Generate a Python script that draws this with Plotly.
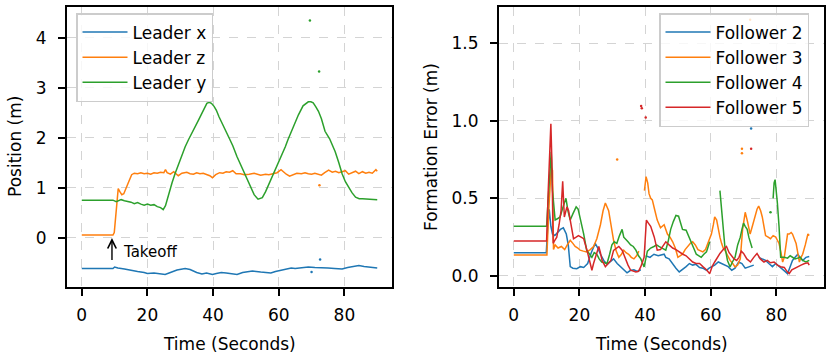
import plotly.graph_objects as go

# ---------------- data ----------------
# Left panel: leader position (t [s], value [m]); None = gap
leader_x = [(0, -0.62), (9.5, -0.62), (10, -0.59), (11, -0.61), (13, -0.63), (15, -0.66), (17, -0.68),
            (19, -0.7), (20, -0.72), (22, -0.71), (24, -0.73), (25.4, -0.74), (27, -0.7), (29, -0.65),
            (31.5, -0.62), (33, -0.64), (35, -0.7), (36.6, -0.73), (38, -0.71), (39.8, -0.74), (41, -0.72),
            (42.5, -0.7), (44, -0.71), (45.5, -0.73), (47.3, -0.74), (49, -0.7), (50.4, -0.68), (52, -0.67),
            (54.5, -0.69), (56, -0.7), (57.6, -0.71), (59, -0.68), (60.7, -0.66), (62, -0.64), (63.8, -0.61),
            (65, -0.62), (67, -0.6), (69, -0.59), (71, -0.6), (73, -0.6), (75, -0.61), (77, -0.62),
            (79.3, -0.63), (81, -0.6), (82.5, -0.58), (84.4, -0.56), (86, -0.58), (88, -0.59), (90, -0.61)]

leader_z = [(0, 0.05), (9.5, 0.05), (9.9, 0.1), (10.3, 0.4), (10.7, 0.75), (11.1, 0.98), (11.6, 0.92),
            (12.2, 0.86), (12.8, 0.88), (13.5, 0.98), (14.3, 1.12), (15.2, 1.26), (16, 1.29), (17, 1.28),
            (18, 1.3), (19, 1.28), (20, 1.29), (21, 1.27), (22, 1.3), (23, 1.29), (24, 1.31), (25, 1.3),
            (25.5, 1.36), (26, 1.3), (27, 1.27), (28, 1.32), (29.4, 1.24), (30.5, 1.29), (32, 1.31),
            (33, 1.28), (34, 1.27), (35, 1.3), (36, 1.28), (37, 1.29), (38, 1.27), (39, 1.24), (39.8, 1.2),
            (40.8, 1.26), (42, 1.3), (43, 1.29), (44, 1.32), (45, 1.31), (46, 1.34), (47, 1.28),
            (48.3, 1.28), (49.5, 1.26), (51, 1.27), (52.5, 1.29), (54.5, 1.25), (56, 1.27), (57, 1.26),
            (58.5, 1.29), (59.5, 1.3), (60.7, 1.36), (61.5, 1.31), (62.3, 1.27), (63.3, 1.23), (64.5, 1.27),
            (65.5, 1.29), (66.9, 1.28), (68, 1.3), (69, 1.28), (70, 1.27), (71, 1.29), (72, 1.27),
            (73, 1.25), (74, 1.3), (75.2, 1.35), (76.3, 1.31), (77.3, 1.33), (78.3, 1.3), (79.3, 1.32),
            (80.3, 1.34), (81.3, 1.27), (82.3, 1.3), (83.4, 1.33), (84.4, 1.28), (85.5, 1.32), (86.5, 1.29),
            (87.5, 1.31), (88.5, 1.29), (89.6, 1.36), (90, 1.33)]

leader_y = [(0, 0.75), (9.5, 0.75), (10.5, 0.72), (11.2, 0.74), (12, 0.76), (13, 0.74), (14, 0.73),
            (15, 0.71), (16, 0.68), (17, 0.7), (18, 0.67), (19, 0.65), (20, 0.67), (21, 0.65), (22, 0.66),
            (23, 0.62), (24, 0.6), (24.8, 0.56), (25.5, 0.64), (26.5, 0.9), (27.5, 1.1), (28.4, 1.28),
            (29.5, 1.48), (30.5, 1.66), (31.5, 1.82), (32.5, 1.96), (33.5, 2.1), (34.5, 2.24), (35.6, 2.36),
            (36.5, 2.48), (37.3, 2.6), (38.1, 2.69), (38.8, 2.71), (39.5, 2.69), (40.3, 2.63), (41, 2.55),
            (41.8, 2.42), (42.6, 2.3), (43.4, 2.2), (44.2, 2.09), (45, 1.98), (46, 1.84), (47.3, 1.62),
            (48.5, 1.45), (49.5, 1.3), (50.4, 1.15), (51.5, 1.0), (52.5, 0.86), (53.7, 0.77), (55, 0.8),
            (56, 0.92), (57.1, 1.08), (58.5, 1.3), (59.7, 1.49), (61.2, 1.69), (62, 1.82), (62.8, 1.96),
            (64, 2.15), (64.8, 2.3), (66, 2.46), (67.4, 2.64), (68.2, 2.69), (69, 2.72), (69.8, 2.72),
            (70.5, 2.7), (71.3, 2.62), (72.1, 2.53), (73, 2.38), (74.1, 2.13), (75.5, 1.98), (77.2, 1.72),
            (78.3, 1.5), (79.3, 1.28), (80.3, 1.12), (81.3, 1.01), (82.3, 0.9), (83.4, 0.81), (84.5, 0.78),
            (85.5, 0.78), (87, 0.77), (88.5, 0.76), (90, 0.76)]

leader_x_dots = [(72.6, -0.44), (70.0, -0.69)]
leader_z_dots = [(72.4, 1.05)]
leader_y_dots = [(69.5, 4.35), (72.3, 3.33)]

# Right panel: formation error (t [s], value [m]); None = gap
follower2 = [(0, 0.15), (9.9, 0.15), (10.3, 0.3), (10.8, 0.43), (11.3, 0.32), (11.8, 0.27), (12.5, 0.26),
             (13.3, 0.28), (14.2, 0.3), (15.1, 0.31), (16, 0.27), (16.6, 0.2), (17.2, 0.06), (18, 0.05),
             (19.2, 0.047), (20.3, 0.06), (21.3, 0.055), (22.5, 0.08), (23.6, 0.15), (24.8, 0.21),
             (25.6, 0.18), (26.4, 0.14), (27.4, 0.1), (28.4, 0.075), (29.4, 0.09), (30.4, 0.11),
             (31.5, 0.08), (32.5, 0.06), (33.5, 0.04), (34.5, 0.02), (35.5, 0.035), (36.6, 0.04),
             (37.6, 0.03), (38.7, 0.04), None, (40.2, 0.13), (41.5, 0.12), (42.7, 0.14), (44, 0.13),
             (45.8, 0.14), (46.3, 0.12), (47.3, 0.11), (48.4, 0.075), (49.4, 0.05), (50.4, 0.026),
             (51.4, 0.04), (52.5, 0.06), (53.5, 0.08), (54.5, 0.07), (55.5, 0.075), (56.6, 0.054),
             (57.6, 0.05), (58.7, 0.037), (59.5, 0.05), (60.2, 0.058), (61.2, 0.07), (62.3, 0.09),
             (63.3, 0.08), (64.3, 0.07), (65.3, 0.06), (66.4, 0.037), (67.4, 0.05), (68.5, 0.09),
             (69.5, 0.08), (70.5, 0.05), (71.8, 0.06), (73.1, 0.07), None, (74.6, 0.12), (75.6, 0.11),
             (76.7, 0.1), (77.7, 0.08), (78.8, 0.06), (79.8, 0.08), (80.8, 0.06), (81.9, 0.04),
             (82.6, 0.03), (83.4, 0.015), (84.2, 0.06), (84.9, 0.1), (85.7, 0.12), (86.5, 0.14),
             (87.2, 0.12), (88, 0.1), (89, 0.12), (90, 0.125)]

follower3 = [(0, 0.135), (10.1, 0.135), (10.6, 0.4), (11.0, 0.6), (11.4, 0.7), (11.8, 0.68), (12.1, 0.17),
             (12.6, 0.2), (13.5, 0.18), (14.5, 0.19), (15.5, 0.17), (16.3, 0.2), (17.2, 0.23), (18, 0.21),
             (18.7, 0.19), (19.5, 0.18), (20.2, 0.166), (21.2, 0.16), (22.2, 0.155), (23.3, 0.17),
             (24.3, 0.19), (25.3, 0.24), (26.4, 0.33), (27.2, 0.42), (27.9, 0.47), (28.9, 0.42),
             (29.6, 0.33), (30.4, 0.23), (31.2, 0.16), (32, 0.12), (32.8, 0.14), (33.5, 0.166),
             (34.2, 0.15), (35, 0.14), (35.8, 0.12), (36.6, 0.11), (37.4, 0.13), (38.1, 0.16), None,
             (39.8, 0.55), (40.3, 0.64), (40.8, 0.6), (41.2, 0.53), (41.7, 0.5), (42.2, 0.49), (43, 0.42),
             (43.7, 0.36), (44.7, 0.31), (45.8, 0.33), (46.8, 0.27), (47.6, 0.25), (48.4, 0.22),
             (49.2, 0.18), (50, 0.12), (50.7, 0.13), (51.4, 0.14), (52.2, 0.17), (53, 0.19), (53.8, 0.21),
             (54.5, 0.22), (55.3, 0.2), (56.1, 0.17), (57, 0.16), (57.6, 0.155), (58.4, 0.17),
             (59.2, 0.21), (60.2, 0.27), (60.8, 0.33), (61.2, 0.38), (61.8, 0.36), (62.3, 0.3),
             (62.8, 0.25), (63.3, 0.21), (63.8, 0.18), (64.3, 0.166), (65.1, 0.13), (65.9, 0.1),
             (66.7, 0.08), (67.4, 0.058), (68.2, 0.07), (69, 0.11), (69.7, 0.3), (70.5, 0.41),
             (71.2, 0.35), (72, 0.27), (72.8, 0.33), (73.6, 0.4), (74.1, 0.43), (74.6, 0.45),
             (75.2, 0.42), (75.7, 0.38), (76.2, 0.32), (76.7, 0.26), (77.5, 0.25), (78.2, 0.24),
             (79, 0.26), (79.8, 0.25), (80.3, 0.23), (80.8, 0.21), (81.4, 0.15), (81.9, 0.09),
             (82.4, 0.12), (82.9, 0.2), (83.4, 0.27), (83.9, 0.27), (84.5, 0.28), (84.9, 0.27),
             (85.5, 0.24), (86, 0.21), (86.5, 0.15), (87, 0.09), (87.5, 0.12), (88, 0.14), (88.8, 0.2),
             (89.6, 0.27), (90, 0.26)]

follower4 = [(0, 0.32), (10, 0.32), (10.5, 0.5), (11, 0.72), (11.4, 0.8), (11.8, 0.55), (12.6, 0.36),
             (13.4, 0.37), (14.1, 0.38), (15.1, 0.45), (15.9, 0.5), (16.5, 0.42), (17.2, 0.36), (18, 0.4),
             (19, 0.445), (19.6, 0.43), (20.2, 0.38), (21.3, 0.27), (22.2, 0.166), (23, 0.14),
             (23.8, 0.12), (24.5, 0.15), (25.3, 0.14), (26, 0.11), (26.8, 0.09), (27.6, 0.085),
             (28.4, 0.08), (29.2, 0.14), (29.9, 0.2), (30.6, 0.22), (31.4, 0.21), (32.2, 0.26), (33, 0.3),
             (33.5, 0.25), (34, 0.24), (34.8, 0.22), (35.6, 0.2), (36.4, 0.19), (37.2, 0.166), (38, 0.13),
             (38.7, 0.11), (39.7, 0.058), (40.7, 0.16), (41.7, 0.18), (42.7, 0.19), (43.5, 0.2),
             (44.2, 0.19), (45.2, 0.18), (46.3, 0.166), (47, 0.22), (47.8, 0.3), (48.6, 0.35),
             (49.4, 0.39), (50.2, 0.385), (50.8, 0.34), (51.4, 0.3), (52.5, 0.295), (53.2, 0.26),
             (54, 0.23), (54.8, 0.18), (55.6, 0.14), (56.4, 0.13), (57.1, 0.12), (57.9, 0.14),
             (58.7, 0.155), (59.7, 0.22), None, (62.8, 0.55), (63.3, 0.42), (63.8, 0.3), (64.3, 0.19),
             (65.1, 0.1), (65.9, 0.058), (66.6, 0.09), (67.4, 0.12), (68.2, 0.2), (69, 0.25), (69.5, 0.3),
             (70, 0.34), (70.5, 0.32), (71.1, 0.3), (71.6, 0.25), (72.1, 0.21), (72.6, 0.18), None,
             (79.0, 0.5), (79.3, 0.6), (79.6, 0.62), (80, 0.55), (80.3, 0.47), (80.8, 0.32),
             (81.3, 0.12), (82.4, 0.12), (83.4, 0.115), (84.2, 0.13), (84.9, 0.12), (85.7, 0.11),
             (86.5, 0.115), (87.3, 0.12), (88, 0.1), (89, 0.09), (90, 0.1)]

follower5 = [(0, 0.226), (10, 0.226), (10.5, 0.55), (11, 0.9), (11.3, 0.98), (11.6, 0.75), (12, 0.21),
             (12.5, 0.23), (13.1, 0.25), (13.8, 0.33), (14.4, 0.42), (14.9, 0.61), (15.4, 0.38),
             (16.2, 0.445), (16.7, 0.42), (17.2, 0.36), (18.2, 0.24), (19, 0.25), (19.7, 0.26),
             (20.5, 0.25), (21.3, 0.24), (22.3, 0.166), (23.3, 0.08), (23.8, 0.037), (24.3, 0.08),
             (24.8, 0.12), (25.9, 0.19), (26.4, 0.15), (26.9, 0.1), (27.9, 0.06), (28.9, 0.08),
             (29.6, 0.1), (30.4, 0.165), (31.2, 0.18), (32, 0.19), (33, 0.166), (34, 0.11), (34.8, 0.07),
             (35.6, 0.037), (36.4, 0.03), (37.2, 0.026), (38, 0.03), (38.7, 0.06), (39.7, 0.12),
             (40.4, 0.36), (41, 0.34), (41.7, 0.32), (42.8, 0.25), (43.7, 0.166), (44.7, 0.17),
             (45.8, 0.2), (46.3, 0.22), (47.3, 0.2), (48.4, 0.18), (49.4, 0.17), (50.4, 0.155),
             (51.5, 0.14), (52.5, 0.13), (53.5, 0.11), (54.5, 0.09), (55.5, 0.08), (56.6, 0.08),
             (57.6, 0.06), (58.7, 0.04), (59.7, 0.015), (60.4, 0.06), (61.2, 0.09), (62, 0.12),
             (62.8, 0.145), (63.8, 0.17), (64.8, 0.19), (65.6, 0.15), (66.4, 0.13), (67.1, 0.11),
             (67.9, 0.1), (68.6, 0.12), (69.3, 0.16), (70, 0.145), (71, 0.11), (72.1, 0.09), (73.1, 0.12),
             (74.1, 0.145), (75.1, 0.11), (76.2, 0.09), (77.2, 0.1), (78.2, 0.085), (79.3, 0.09),
             (80.3, 0.07), (81.3, 0.06), (82.4, 0.055), (83.2, 0.03), (83.9, 0.015), (84.7, 0.04),
             (85.5, 0.05), (86.5, 0.06), (87.5, 0.07), (88.6, 0.08), (89.6, 0.085), (90, 0.07)]

follower2_dots = [(72.3, 0.95)]
follower3_dots = [(31.5, 0.75), (69.5, 0.82), (69.5, 0.79), (72.0, 1.65)]
follower4_dots = [(78.2, 0.41)]
follower5_dots = [(38.8, 1.095), (39.0, 1.08), (40.2, 1.02), (72.3, 0.82)]

x_ticks = [0, 20, 40, 60, 80]
left_y_ticks = [0, 1, 2, 3, 4]
right_y_ticks = [0.0, 0.5, 1.0, 1.5]

C_BLUE, C_ORANGE, C_GREEN, C_RED = "#1f77b4", "#ff7f0e", "#2ca02c", "#d62728"
FONT = "DejaVu Sans"


def unzip(pairs):
    t = [p[0] if p is not None else None for p in pairs]
    v = [p[1] if p is not None else None for p in pairs]
    return t, v


fig = go.Figure()


def add_line(pairs, name, color, xa, ya, legend):
    t, v = unzip(pairs)
    fig.add_trace(go.Scatter(x=t, y=v, mode="lines", name=name, xaxis=xa, yaxis=ya,
                             line=dict(color=color, width=1.5), legend=legend,
                             legendgroup=name))


def add_dots(pairs, color, xa, ya):
    t, v = unzip(pairs)
    fig.add_trace(go.Scatter(x=t, y=v, mode="markers", xaxis=xa, yaxis=ya, showlegend=False,
                             marker=dict(color=color, size=2.5)))


add_line(leader_x, "Leader x", C_BLUE, "x", "y", "legend")
add_line(leader_z, "Leader z", C_ORANGE, "x", "y", "legend")
add_line(leader_y, "Leader y", C_GREEN, "x", "y", "legend")
add_dots(leader_x_dots, C_BLUE, "x", "y")
add_dots(leader_z_dots, C_ORANGE, "x", "y")
add_dots(leader_y_dots, C_GREEN, "x", "y")

add_line(follower2, "Follower 2", C_BLUE, "x2", "y2", "legend2")
add_line(follower3, "Follower 3", C_ORANGE, "x2", "y2", "legend2")
add_line(follower4, "Follower 4", C_GREEN, "x2", "y2", "legend2")
add_line(follower5, "Follower 5", C_RED, "x2", "y2", "legend2")
add_dots(follower2_dots, C_BLUE, "x2", "y2")
add_dots(follower3_dots, C_ORANGE, "x2", "y2")
add_dots(follower4_dots, C_GREEN, "x2", "y2")
add_dots(follower5_dots, C_RED, "x2", "y2")

W, H = 831, 358
axis_common = dict(showline=True, linecolor="black", linewidth=2, mirror=True, automargin=False,
                   ticks="outside", ticklen=7, tickwidth=2, tickcolor="black",
                   showgrid=True, gridcolor="#d4d4d4", griddash="dash", gridwidth=1,
                   zeroline=False, tickfont=dict(family=FONT, size=17, color="black"))

y_dom = [(H - 287) / H, (H - 7) / H]
legend_common = dict(xanchor="left", yanchor="top", bgcolor="rgba(255,255,255,0.8)",
                     bordercolor="#cccccc", borderwidth=1.5, itemwidth=45,
                     font=dict(family=FONT, size=17, color="black"), tracegroupgap=0)
fig.update_layout(
    width=W, height=H, margin=dict(l=0, r=0, t=0, b=0, autoexpand=False),
    paper_bgcolor="white", plot_bgcolor="white",
    font=dict(family=FONT, size=17, color="black"),
    xaxis=dict(domain=[67 / W, 392 / W], range=[-4.5, 94.5], tickvals=x_ticks, anchor="y",
               ticklabelstandoff=5, **axis_common),
    yaxis=dict(domain=y_dom, range=[-0.99, 4.62], tickvals=left_y_ticks, anchor="x",
               ticklabelstandoff=8, **axis_common),
    xaxis2=dict(domain=[499 / W, 824 / W], range=[-4.5, 94.5], tickvals=x_ticks, anchor="y2",
                ticklabelstandoff=5, **axis_common),
    yaxis2=dict(domain=y_dom, range=[-0.071, 1.732], tickvals=right_y_ticks, tickformat=".1f",
                anchor="x2", ticklabelstandoff=8, **axis_common),
    legend=dict(x=76 / W, y=(H - 13) / H, **legend_common),
    legend2=dict(x=659 / W, y=(H - 13) / H, **legend_common),
)

# axis titles
fig.add_annotation(text="Time (Seconds)", xref="paper", yref="paper", x=(67 + 392) / 2 / W,
                   y=(H - 344) / H, showarrow=False, xanchor="center", yanchor="middle",
                   font=dict(family=FONT, size=17))
fig.add_annotation(text="Time (Seconds)", xref="paper", yref="paper", x=(499 + 824) / 2 / W,
                   y=(H - 344) / H, showarrow=False, xanchor="center", yanchor="middle",
                   font=dict(family=FONT, size=17))
fig.add_annotation(text="Position (m)", xref="paper", yref="paper", x=15 / W,
                   y=(H - 147) / H, showarrow=False, textangle=-90, xanchor="center", yanchor="middle",
                   font=dict(family=FONT, size=17))
fig.add_annotation(text="Formation Error (m)", xref="paper", yref="paper", x=431 / W,
                   y=(H - 147) / H, showarrow=False, textangle=-90, xanchor="center", yanchor="middle",
                   font=dict(family=FONT, size=17))

# takeoff marker
fig.add_annotation(x=9.2, y=-0.01, ax=9.2, ay=-0.48, xref="x", yref="y", axref="x", ayref="y",
                   text="", showarrow=True, arrowhead=5, arrowsize=1.2, arrowwidth=1.4,
                   arrowcolor="black")
fig.add_annotation(x=12.0, y=-0.29, xref="x", yref="y", text="Takeoff", showarrow=False,
                   xanchor="left", yanchor="middle", font=dict(family=FONT, size=15, color="black"))

fig.write_html("out.html", config={"displayModeBar": False},
               post_script="document.body.style.margin='0px';")
